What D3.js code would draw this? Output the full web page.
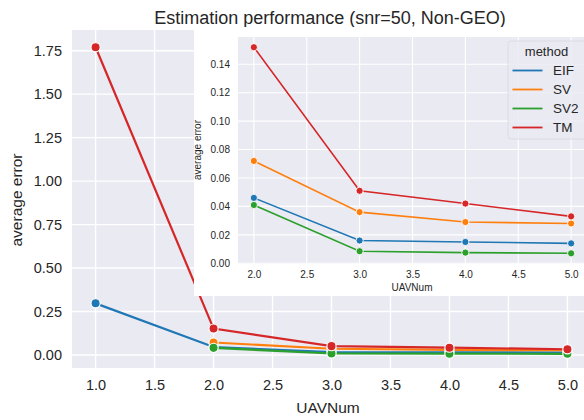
<!DOCTYPE html>
<html>
<head>
<meta charset="utf-8">
<script src="https://cdn.jsdelivr.net/npm/d3@7"></script>
<style>
  body { margin: 0; background: #fff; }
  svg text { font-family: "Liberation Sans", Arial, sans-serif; fill: #262626; }
</style>
</head>
<body>
<svg id="chart" width="584" height="420"></svg>
<script>
// values
var uavNum = [1, 2, 3, 4, 5];
var methods = ["EIF", "SV", "SV2", "TM"];
var colors = ["#1f77b4", "#ff7f0e", "#2ca02c", "#d62728"];
var eif = [0.297, 0.046, 0.016, 0.015, 0.014];
var sv  = [null, 0.072, 0.036, 0.029, 0.028];
var sv2 = [null, 0.041, 0.0085, 0.0075, 0.007];
var tm  = [1.77, 0.152, 0.051, 0.042, 0.033];
var mainYTicks = [0, 0.25, 0.5, 0.75, 1.0, 1.25, 1.5, 1.75];
var mainXTicks = [1.0, 1.5, 2.0, 2.5, 3.0, 3.5, 4.0, 4.5, 5.0];
var insetYTicks = [0, 0.02, 0.04, 0.06, 0.08, 0.10, 0.12, 0.14];
var insetXTicks = [2.0, 2.5, 3.0, 3.5, 4.0, 4.5, 5.0];

var seriesValues = [eif, sv, sv2, tm];
var series = methods.map(function(m, i) {
    return {
        name: m,
        color: colors[i],
        points: uavNum.map(function(u, j) { return {x: u, y: seriesValues[i][j]}; })
            .filter(function(p) { return p.y !== null; })
    };
});

var svg = d3.select("#chart");

function drawPanel(g, opts) {
    var x = opts.x, y = opts.y;
    var x0 = x.range()[0], x1 = x.range()[1];
    var y0 = y.range()[0], y1 = y.range()[1];

    g.append("rect")
        .attr("x", x0).attr("y", y1)
        .attr("width", x1 - x0).attr("height", y0 - y1)
        .attr("fill", "#eaeaf2");

    // grid
    g.selectAll(".gx").data(opts.xTicks).enter().append("line")
        .attr("x1", function(d) { return x(d); }).attr("x2", function(d) { return x(d); })
        .attr("y1", y1).attr("y2", y0)
        .attr("stroke", "#fff").attr("stroke-width", opts.grid);
    g.selectAll(".gy").data(opts.yTicks).enter().append("line")
        .attr("x1", x0).attr("x2", x1)
        .attr("y1", function(d) { return y(d); }).attr("y2", function(d) { return y(d); })
        .attr("stroke", "#fff").attr("stroke-width", opts.grid);

    var axB = g.append("g").attr("transform", "translate(0," + y0 + ")")
        .call(d3.axisBottom(x).tickValues(opts.xTicks).tickFormat(d3.format(".1f")).tickSize(0).tickPadding(opts.padX));
    var axL = g.append("g").attr("transform", "translate(" + x0 + ",0)")
        .call(d3.axisLeft(y).tickValues(opts.yTicks).tickFormat(d3.format(".2f")).tickSize(0).tickPadding(opts.padY));
    [axB, axL].forEach(function(a) {
        a.select(".domain").remove();
        a.selectAll("text").style("font-size", opts.tickFont + "px").attr("fill", "#262626");
    });

    var line = d3.line().x(function(d) { return x(d.x); }).y(function(d) { return y(d.y); });
    var clipId = opts.id + "-clip";
    g.append("clipPath").attr("id", clipId).append("rect")
        .attr("x", x0).attr("y", y1).attr("width", x1 - x0).attr("height", y0 - y1);
    var plot = g.append("g").attr("clip-path", "url(#" + clipId + ")");

    series.forEach(function(s) {
        var pts = s.points.filter(function(p) { return p.x >= opts.xMin; });
        plot.append("path").datum(pts)
            .attr("d", line).attr("fill", "none")
            .attr("stroke", s.color).attr("stroke-width", opts.lw);
        plot.selectAll(null).data(pts).enter().append("circle")
            .attr("cx", function(d) { return x(d.x); })
            .attr("cy", function(d) { return y(d.y); })
            .attr("r", opts.r)
            .attr("fill", s.color).attr("stroke", "#fff").attr("stroke-width", opts.r * 0.25);
    });
}

// main axes
var xMain = d3.scaleLinear().domain([0.8, 5.2]).range([72, 591]);
var yMain = d3.scaleLinear().domain([-0.0748, 1.869]).range([368, 30]);
var main = svg.append("g");
drawPanel(main, {id: "main", x: xMain, y: yMain, xTicks: mainXTicks, yTicks: mainYTicks,
    xMin: 1, lw: 2.2, r: 4.6, grid: 1.4, tickFont: 14.5, padX: 12, padY: 10});

main.append("text").attr("x", 330).attr("y", 24).attr("text-anchor", "middle")
    .style("font-size", "18px").text("Estimation performance (snr=50, Non-GEO)");
main.append("text").attr("x", 328).attr("y", 413).attr("text-anchor", "middle")
    .style("font-size", "15.5px").text("UAVNum");
main.append("text").attr("transform", "translate(22,200) rotate(-90)").attr("text-anchor", "middle")
    .style("font-size", "15.5px").text("average error");

// inset figure
var inset = svg.append("g");
inset.append("rect").attr("x", 194).attr("y", 27).attr("width", 400).attr("height", 269).attr("fill", "#fff");
var xIn = d3.scaleLinear().domain([1.85, 5.15]).range([238, 587]);
var yIn = d3.scaleLinear().domain([-0.0003, 0.1592]).range([263.7, 37]);
drawPanel(inset, {id: "inset", x: xIn, y: yIn, xTicks: insetXTicks, yTicks: insetYTicks,
    xMin: 2, lw: 1.6, r: 3.6, grid: 1.1, tickFont: 10, padX: 7, padY: 8});
inset.append("text").attr("x", 412).attr("y", 291).attr("text-anchor", "middle")
    .style("font-size", "10px").text("UAVNum");
inset.append("text").attr("transform", "translate(201,150) rotate(-90)").attr("text-anchor", "middle")
    .style("font-size", "10px").text("average error");

// legend
var lg = inset.append("g");
lg.append("rect").attr("x", 508).attr("y", 41).attr("width", 84).attr("height", 98).attr("rx", 3)
    .attr("fill", "#eaeaf2").attr("fill-opacity", 0.8).attr("stroke", "#d8d8e0").attr("stroke-width", 0.8);
lg.append("text").attr("x", 546.5).attr("y", 55.5).attr("text-anchor", "middle")
    .style("font-size", "13px").text("method");
var legY = d3.scalePoint().domain(methods).range([70.5, 127.5]);
lg.selectAll(".item").data(series).enter().append("g").each(function(s) {
    var it = d3.select(this), yy = legY(s.name);
    it.append("line").attr("x1", 512.5).attr("x2", 542.5).attr("y1", yy).attr("y2", yy)
        .attr("stroke", s.color).attr("stroke-width", 1.8);
    it.append("text").attr("x", 553).attr("y", yy + 4.8).style("font-size", "13.5px").text(s.name);
});
</script>
</body>
</html>
